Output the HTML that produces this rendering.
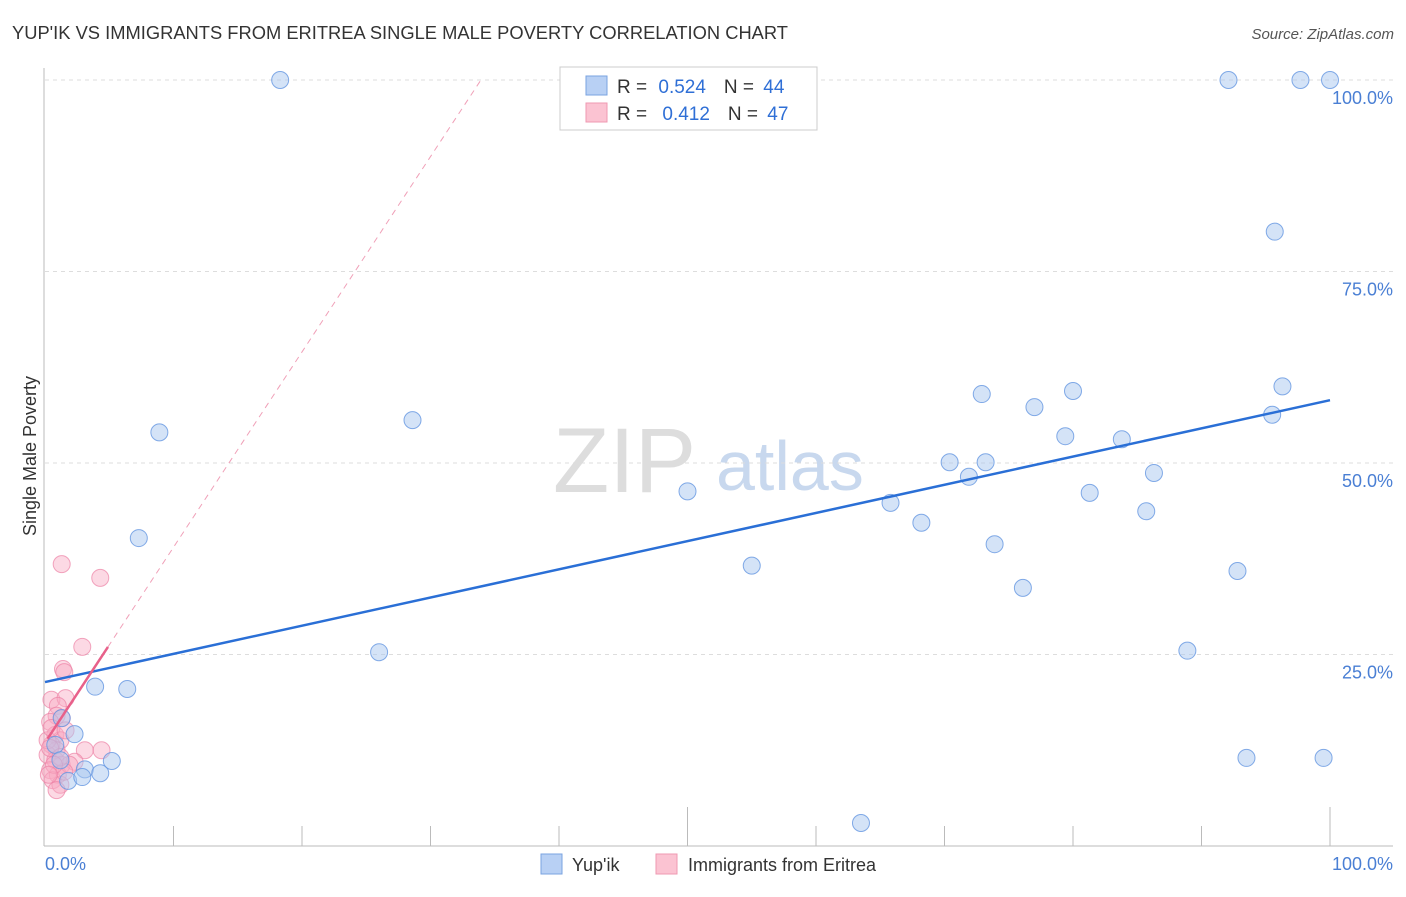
<!DOCTYPE html>
<html><head><meta charset="utf-8"><style>
body{margin:0;background:#fff;font-family:"Liberation Sans",sans-serif;}
svg text{font-family:"Liberation Sans",sans-serif;}
</style></head><body>
<svg width="1406" height="892" viewBox="0 0 1406 892">
<text x="12" y="39" font-size="18" fill="#333" textLength="776" lengthAdjust="spacingAndGlyphs">YUP'IK VS IMMIGRANTS FROM ERITREA SINGLE MALE POVERTY CORRELATION CHART</text>
<text x="1394" y="39" font-size="15" fill="#555" font-style="italic" text-anchor="end">Source: ZipAtlas.com</text>
<text x="36" y="456" font-size="18" fill="#333" transform="rotate(-90 36 456)" text-anchor="middle">Single Male Poverty</text>
<text x="553" y="492" font-size="92" fill="#ddd" font-family="Liberation Serif">ZIP</text>
<text x="716" y="490" font-size="70" fill="#c8d8ee">atlas</text>
<g id="grid"></g>
<line x1="44" y1="68" x2="44" y2="846" stroke="#bbb"/>
<line x1="44" y1="846" x2="1393" y2="846" stroke="#bbb"/>
<g id="ticks"></g>
<g id="marks"></g>
<rect x="560" y="67" width="257" height="63" fill="#fff" stroke="#ccc"/>
<rect x="586" y="76" width="21" height="19" fill="#b8d0f4" stroke="#7aa3e0"/>
<rect x="586" y="103" width="21" height="19" fill="#fbc3d2" stroke="#ef98b2"/>
<text x="617" y="93" font-size="19" fill="#333">R = <tspan fill="#2f6fd6" dx="6">0.524</tspan><tspan dx="18" fill="#333">N = </tspan><tspan fill="#2f6fd6" dx="4">44</tspan></text>
<text x="617" y="120" font-size="19" fill="#333">R = <tspan fill="#2f6fd6" dx="10">0.412</tspan><tspan dx="18" fill="#333">N = </tspan><tspan fill="#2f6fd6" dx="4">47</tspan></text>
<text x="45" y="870" font-size="18" fill="#4a7fd4">0.0%</text>
<text x="1393" y="870" font-size="18" fill="#4a7fd4" text-anchor="end">100.0%</text>
<rect x="541" y="854" width="21" height="20" fill="#b8d0f4" stroke="#7aa3e0"/>
<text x="572" y="871" font-size="18" fill="#333">Yup'ik</text>
<rect x="656" y="854" width="21" height="20" fill="#fbc3d2" stroke="#ef98b2"/>
<text x="688" y="871" font-size="18" fill="#333">Immigrants from Eritrea</text>
</svg>
<script>
const yTicks=[25,50,75,100];
const yTickLabels=["25.0%","50.0%","75.0%","100.0%"];
const blueX=[18.3,92.1,97.7,100,95.7,8.9,28.6,7.3,3.9,6.4,26,50,55,63.5,65.8,68.2,70.4,71.9,73.2,72.9,73.9,76.1,77,79.4,80,81.3,83.8,85.7,86.3,88.9,92.8,93.5,95.5,96.3,99.5,2.3,1.3,3.1,4.3,5.2,1.8,0.8,2.9,1.2];
const blueY=[100,100,100,100,80.2,54,55.6,40.2,20.8,20.5,25.3,46.3,36.6,3,44.8,42.2,50.1,48.2,50.1,59,39.4,33.7,57.3,53.5,59.4,46.1,53.1,43.7,48.7,25.5,35.9,11.5,56.3,60,11.5,14.6,16.7,10,9.5,11.1,8.5,13.2,9,11.2];
const pinkX=[1.3,4.3,2.9,1.4,1.5,0.5,1.6,1,0.9,1.3,0.4,0.8,1.2,0.5,0.9,0.2,0.8,1.3,0.4,1,0.6,1.2,3.1,4.4,2.3,1.9,0.2,1.5,0.9,0.5,1.6,0.4,1.2,0.7,0.3];
const pinkY=[36.8,35,26,23.1,22.7,19.1,19.3,18.3,17,16.7,16.2,14.5,13.8,13.2,12.5,11.9,11.2,10.6,9.9,9.3,8.6,8,12.5,12.5,11,10.6,13.8,9.7,7.3,15.4,15.1,12.8,11.6,10.6,9.3];
const blueFit=[21.4,58.2];
const pinkFit=[13.5,2.55];
const NS="http://www.w3.org/2000/svg";
const X=v=>45+v*12.85, Y=v=>846-v*7.66;
function mk(t,a,p){const e=document.createElementNS(NS,t);for(const k in a)e.setAttribute(k,a[k]);p.appendChild(e);return e;}
const grid=document.getElementById('grid'),ticks=document.getElementById('ticks'),marks=document.getElementById('marks');
yTicks.forEach((t,i)=>{
 const l=mk('line',{x1:45,x2:1393,y1:Y(t),y2:Y(t),stroke:'#ddd','stroke-dasharray':'4,4'},grid);
 
 
 const tx=mk('text',{x:1393,y:Y(t)+24,'font-size':18,fill:'#4a7fd4','text-anchor':'end'},grid);
 tx.textContent=yTickLabels[i];
 
 
});
for(let i=1;i<=10;i++){
 const major=(i==5||i==10);
 const l=mk('line',{x1:X(i*10),x2:X(i*10),y1:846,y2:major?807:826,stroke:'#bbb'},ticks);
 
 
}
const pl=mk('line',{x1:X(4.9),y1:Y(pinkFit[0]+4.9*pinkFit[1]),x2:X(34),y2:Y(pinkFit[0]+34*pinkFit[1]),stroke:'#f0a0b8','stroke-dasharray':'6,5'},marks);


pinkX.forEach((x,i)=>{
 const c=mk('circle',{cx:X(x),cy:Y(pinkY[i]),r:8.5,fill:'rgba(248,170,195,0.45)',stroke:'rgba(236,130,165,0.7)'},marks);
 
 
});
blueX.forEach((x,i)=>{
 const c=mk('circle',{cx:X(x),cy:Y(blueY[i]),r:8.5,fill:'rgba(170,200,240,0.5)',stroke:'rgba(100,150,225,0.8)'},marks);
 
 
});
const bl=mk('line',{x1:X(0),y1:Y(blueFit[0]),x2:X(100),y2:Y(blueFit[1]),stroke:'#2a6fd6','stroke-width':2.5},marks);


const ps=mk('line',{x1:X(0.2),y1:Y(pinkFit[0]+0.2*pinkFit[1]),x2:X(4.9),y2:Y(pinkFit[0]+4.9*pinkFit[1]),stroke:'#e8608a','stroke-width':2.5},marks);


</script>
</body></html>
